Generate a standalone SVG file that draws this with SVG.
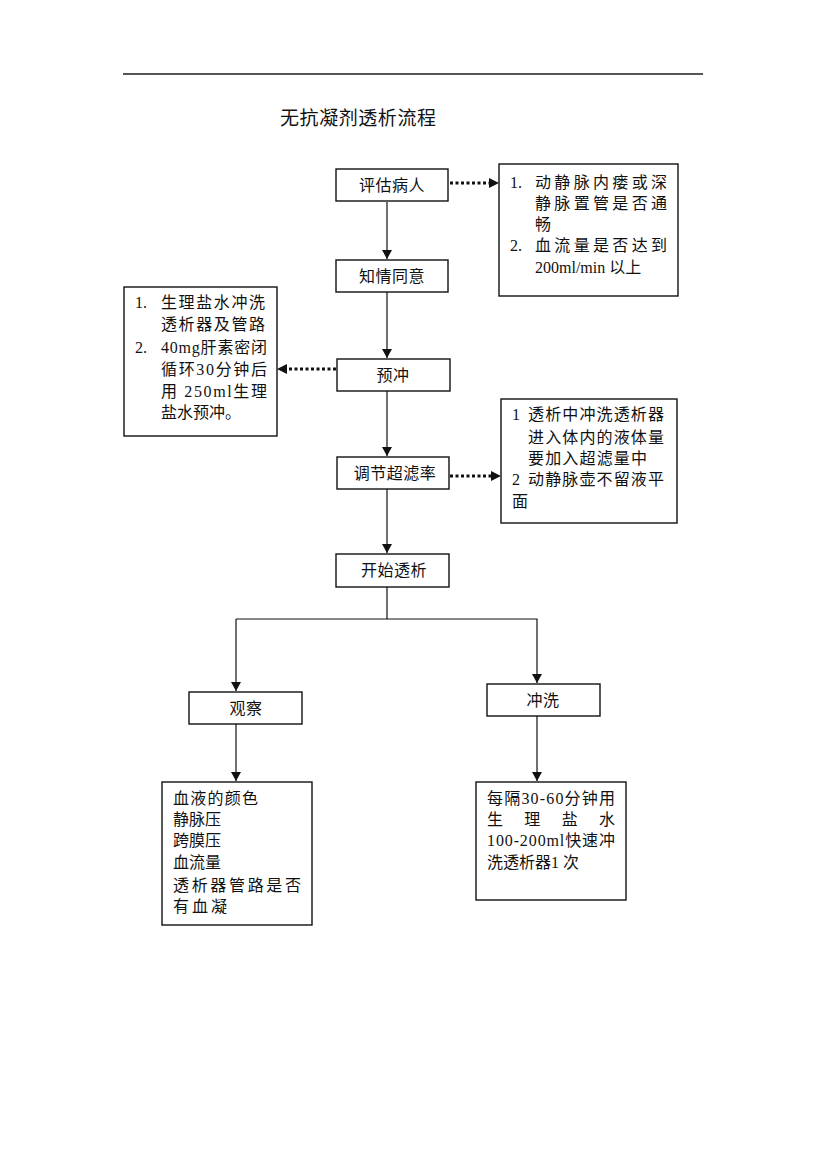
<svg xmlns="http://www.w3.org/2000/svg" width="826" height="1168" viewBox="0 0 826 1168">
<style>
text{font-family:"Liberation Serif","Noto Sans CJK SC",serif;fill:#111;font-size:16px}
.box{fill:#fff;stroke:#111;stroke-width:1.4}
.lbl{text-anchor:middle;font-size:16px;letter-spacing:0.5px}
.ln{fill:none;stroke:#111;stroke-width:1.2}
.dot{fill:none;stroke:#111;stroke-width:3;stroke-dasharray:3 2.5}
.title{font-size:19px}
</style>
<defs>
<marker id="ah" markerWidth="9" markerHeight="10" viewBox="0 0 9 10" refX="9" refY="5" orient="auto" markerUnits="userSpaceOnUse">
<path d="M0,0 L9,5 L0,10 z" fill="#111"/>
</marker>
</defs>
<line x1="123" y1="74" x2="703" y2="74" stroke="#555" stroke-width="2"/>
<text class="title" x="280" y="125" textLength="156" lengthAdjust="spacing">无抗凝剂透析流程</text>

<g id="connectors">
<line class="ln" x1="387" y1="202" x2="387" y2="259" marker-end="url(#ah)"/>
<line class="ln" x1="387" y1="292" x2="387" y2="358" marker-end="url(#ah)"/>
<line class="ln" x1="387" y1="391" x2="387" y2="456" marker-end="url(#ah)"/>
<line class="ln" x1="387" y1="489" x2="387" y2="553" marker-end="url(#ah)"/>
<polyline class="ln" points="387,587 387,619"/>
<polyline class="ln" points="236,619 537,619 537,683" marker-end="url(#ah)"/>
<line class="ln" x1="236" y1="619" x2="236" y2="691" marker-end="url(#ah)"/>
<line class="ln" x1="236" y1="724" x2="236" y2="781" marker-end="url(#ah)"/>
<line class="ln" x1="537" y1="716" x2="537" y2="781" marker-end="url(#ah)"/>
<line class="dot" x1="450" y1="183" x2="490" y2="183"/>
<path d="M489,178 L499,183 L489,188 z" fill="#111"/>
<line class="dot" x1="336" y1="369" x2="286" y2="369"/>
<path d="M287,364 L277,369 L287,374 z" fill="#111"/>
<line class="dot" x1="450" y1="476" x2="492" y2="476"/>
<path d="M491,471 L501,476 L491,481 z" fill="#111"/>
</g>

<g id="n1"><rect class="box" x="336" y="169" width="112" height="32"/><text class="lbl" x="392" y="191">评估病人</text></g>
<g id="n2"><rect class="box" x="336" y="260" width="112" height="32"/><text class="lbl" x="392" y="282">知情同意</text></g>
<g id="n3"><rect class="box" x="337" y="359" width="113" height="32"/><text class="lbl" x="393" y="381">预冲</text></g>
<g id="n4"><rect class="box" x="337" y="457" width="112" height="32"/><text class="lbl" x="395" y="479">调节超滤率</text></g>
<g id="n5"><rect class="box" x="336" y="554" width="113" height="33"/><text class="lbl" x="394" y="576">开始透析</text></g>
<g id="n6"><rect class="box" x="189" y="692" width="113" height="32"/><text class="lbl" x="246" y="714">观察</text></g>
<g id="n7"><rect class="box" x="487" y="684" width="113" height="32"/><text class="lbl" x="543" y="706">冲洗</text></g>

<g id="note1">
<rect class="box" x="499" y="164" width="179" height="132"/>
<text x="510" y="188">1.</text>
<text x="535" y="188" textLength="132" lengthAdjust="spacing">动静脉内瘘或深</text>
<text x="535" y="209" textLength="132" lengthAdjust="spacing">静脉置管是否通</text>
<text x="535" y="230">畅</text>
<text x="510" y="251">2.</text>
<text x="535" y="251" textLength="132" lengthAdjust="spacing">血流量是否达到</text>
<text x="535" y="273">200ml/min 以上</text>
</g>

<g id="note2">
<rect class="box" x="124" y="287" width="153" height="149"/>
<text x="135" y="308">1.</text>
<text x="161" y="308" textLength="104" lengthAdjust="spacing">生理盐水冲洗</text>
<text x="161" y="330" textLength="104" lengthAdjust="spacing">透析器及管路</text>
<text x="135" y="353">2.</text>
<text x="161" y="353" textLength="106" lengthAdjust="spacing">40mg肝素密闭</text>
<text x="161" y="375" textLength="106" lengthAdjust="spacing">循环30分钟后</text>
<text x="161" y="397" textLength="106" lengthAdjust="spacing">用 250ml生理</text>
<text x="161" y="418">盐水预冲。</text>
</g>

<g id="note3">
<rect class="box" x="501" y="399" width="176" height="124"/>
<text x="512" y="420">1</text>
<text x="528" y="420" textLength="136" lengthAdjust="spacing">透析中冲洗透析器</text>
<text x="528" y="443" textLength="136" lengthAdjust="spacing">进入体内的液体量</text>
<text x="528" y="464" textLength="119" lengthAdjust="spacing">要加入超滤量中</text>
<text x="512" y="485">2</text>
<text x="528" y="485" textLength="136" lengthAdjust="spacing">动静脉壶不留液平</text>
<text x="512" y="507">面</text>
</g>

<g id="note4">
<rect class="box" x="162" y="782" width="150" height="143"/>
<text x="173" y="804" textLength="85" lengthAdjust="spacing">血液的颜色</text>
<text x="173" y="825">静脉压</text>
<text x="173" y="846">跨膜压</text>
<text x="173" y="868">血流量</text>
<text x="173" y="891" textLength="128" lengthAdjust="spacing">透析器管路是否</text>
<text x="173" y="912" textLength="54" lengthAdjust="spacing">有血凝</text>
</g>

<g id="note5">
<rect class="box" x="476" y="782" width="150" height="118"/>
<text x="487" y="804" textLength="128" lengthAdjust="spacing">每隔30-60分钟用</text>
<text x="487" y="825" textLength="128" lengthAdjust="spacing">生理盐水</text>
<text x="487" y="846" textLength="128" lengthAdjust="spacing">100-200ml快速冲</text>
<text x="487" y="868">洗透析器1 次</text>
</g>
</svg>
